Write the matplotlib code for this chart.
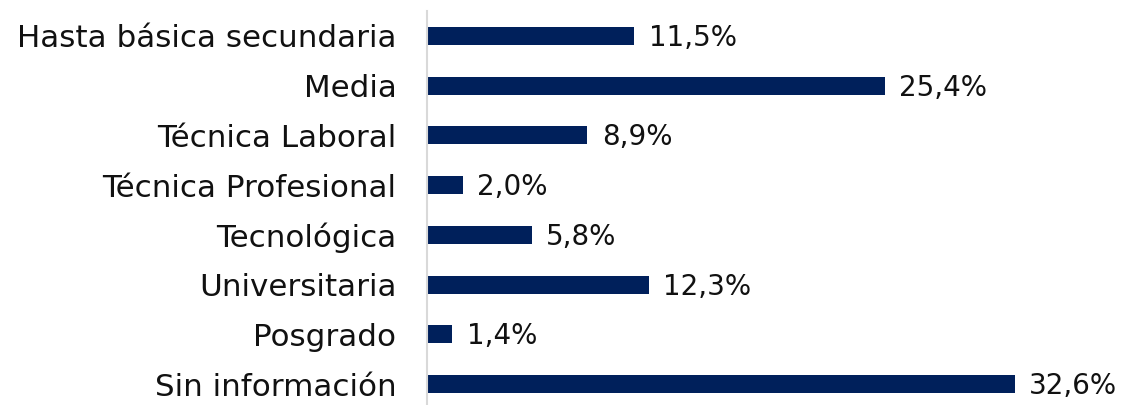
import matplotlib

matplotlib.use("Agg")

import matplotlib.pyplot as plt

CATEGORIES = ["Hasta básica secundaria", "Media", "Técnica Laboral", "Técnica Profesional",
              "Tecnológica", "Universitaria", "Posgrado", "Sin información"]
VALUES = [11.5, 25.4, 8.9, 2.0, 5.8, 12.3, 1.4, 32.6]

BAR_COLOR = "#00205B"
LABEL_SIZE = 22.3
VALUE_SIZE = 20

plt.rcParams["font.family"] = ["DejaVu Sans"]

fig = plt.figure(figsize=(11.22, 4.05), dpi=100)
ax = fig.add_axes((427 / 1122, -4 / 405, 685 / 1122, 398 / 405))

positions = range(len(CATEGORIES))
ax.barh(positions, VALUES, height=0.36, color=BAR_COLOR)
for pos, value in zip(positions, VALUES):
    ax.text(value + 0.8, pos + 0.04, f"{value:.1f}%".replace(".", ","), va="center", ha="left",
            fontsize=VALUE_SIZE, color="#111111")

ax.set_ylim(len(CATEGORIES) - 0.5, -0.5)
ax.set_xlim(0, 38)
ax.set_yticks(list(positions))
ax.set_yticklabels(CATEGORIES, fontsize=LABEL_SIZE, color="#111111")
ax.tick_params(axis="y", length=0, pad=22)
ax.set_xticks([])
for side in ("top", "right", "bottom"):
    ax.spines[side].set_visible(False)
ax.spines["left"].set_color("#D9D9D9")
ax.spines["left"].set_linewidth(1.5)

fig.savefig("out.png", dpi=100)
